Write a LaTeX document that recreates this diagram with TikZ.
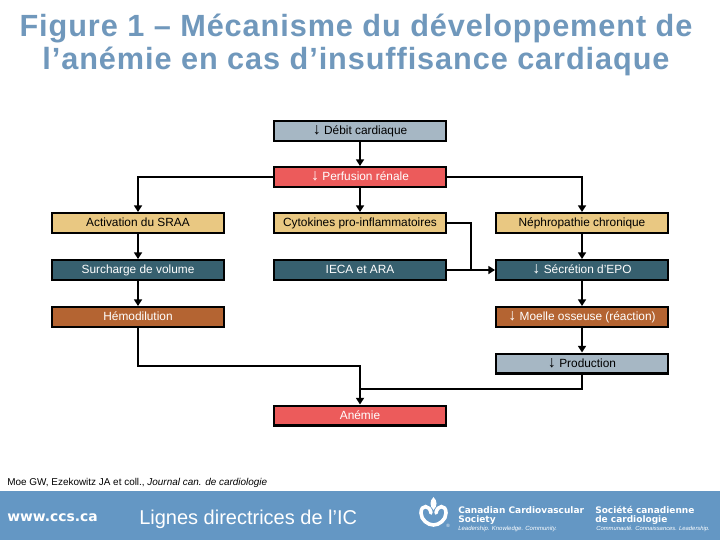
\documentclass[tikz,border=0pt]{standalone}
\usepackage{fontspec}
\setmainfont{Liberation Sans}
\newfontfamily\titlefont[LetterSpace=3]{Liberation Sans}
\newfontfamily\bandfont{DejaVu Sans}
\usetikzlibrary{arrows.meta}
\definecolor{cgrey}{HTML}{A6B7C4}
\definecolor{cred}{HTML}{EC5B5B}
\definecolor{csand}{HTML}{E9C882}
\definecolor{cteal}{HTML}{37606F}
\definecolor{cbrown}{HTML}{B46432}
\definecolor{cband}{HTML}{6497C4}
\definecolor{ctitle}{HTML}{7098BC}
\newcommand{\dnarrow}{{\fontsize{12pt}{10pt}\selectfont ↓}\hspace{2.5pt}}
\tikzset{
  x=0.75pt,y=-0.75pt,
  flowbox/.style={draw=black,line width=1.6pt,minimum width=130.5pt-1.6pt,minimum height=16.5pt-1.6pt,inner sep=0pt,font=\fontsize{8.9pt}{10pt}\selectfont,text height=6.4pt,text depth=0.9pt,anchor=center},
  greybox/.style={flowbox,fill=cgrey,text=black},
  redbox/.style={flowbox,fill=cred,text=white},
  sandbox/.style={flowbox,fill=csand,text=black},
  tealbox/.style={flowbox,fill=cteal,text=white},
  brownbox/.style={flowbox,fill=cbrown,text=white},
  link/.style={draw=black,line width=1.5pt},
  linkhead/.style={link,-{Triangle[length=5pt,width=6pt]}},
  titletext/.style={text=ctitle,font=\titlefont\bfseries\fontsize{23pt}{27pt}\selectfont,inner sep=0pt,anchor=base},
}
\begin{document}
\begin{tikzpicture}
\useasboundingbox (0,0) rectangle (720,540);
\fill[white] (0,0) rectangle (720,540);
\node[titletext] (t1) at (356,36) {Figure 1 – Mécanisme du développement de};
\node[titletext] (t2) at (356,69) {l’anémie en cas d’insuffisance cardiaque};
\node[greybox] (debit) at (360,131) {\dnarrow Débit cardiaque};
\node[redbox] (perf) at (360,177) {\dnarrow Perfusion rénale};
\node[sandbox] (sraa) at (138,223) {Activation du SRAA};
\node[tealbox] (surch) at (138,270) {Surcharge de volume};
\node[brownbox] (hemo) at (138,317) {Hémodilution};
\node[sandbox] (cyto) at (360,223) {Cytokines pro-inflammatoires};
\node[tealbox] (ieca) at (360,270) {IECA et ARA};
\node[sandbox] (nephro) at (582,223) {Néphropathie chronique};
\node[tealbox] (epo) at (582,270) {\dnarrow Sécrétion d'EPO};
\node[brownbox] (moelle) at (582,317) {\dnarrow Moelle osseuse (réaction)};
\node[greybox] (prod) at (582,363.5) {\dnarrow Production};
\node[redbox] (anemie) at (360,415.5) {Anémie};
\draw[linkhead] (debit) -- (perf);
\draw[linkhead] (perf) -- (cyto);
\draw[linkhead] (perf.west) -| (sraa.north);
\draw[linkhead] (perf.east) -| (nephro.north);
\draw[linkhead] (sraa) -- (surch);
\draw[linkhead] (surch) -- (hemo);
\draw[linkhead] (nephro) -- (epo);
\draw[linkhead] (epo) -- (moelle);
\draw[linkhead] (moelle) -- (prod);
\draw[linkhead] (ieca.east) -- (epo.west);
\coordinate (join) at (471,270);
\draw[link] (cyto.east) -| (join);
\coordinate (hbend) at (138,365.5);
\coordinate (abend) at (360,365.5);
\draw[linkhead] (hemo.south) -- (hbend) -- (abend) -- (anemie.north);
\coordinate (pbend) at (582,389);
\coordinate (pjoin) at (360,389);
\draw[link,line width=2.2pt] (prod.south) -- (pbend) -- (pjoin);
\node[anchor=west,inner sep=0pt,font=\fontsize{7.45pt}{8pt}\selectfont] (cite) at (7,483) {Moe GW, Ezekowitz JA et coll., \textit{Journal can. de cardiologie}};
\fill[cband] (0,491) rectangle (720,540);
\node[anchor=west,inner sep=0pt,text=white,font=\bandfont\bfseries\fontsize{10.4pt}{12pt}\selectfont] (www) at (7,517.5) {www.ccs.ca};
\node[anchor=west,inner sep=0pt,text=white,font=\fontsize{15pt}{18pt}\selectfont] (lignes) at (139,519) {Lignes directrices de l’IC};
% logo
\draw[white,line width=2.7pt,line cap=round] (431,513) .. controls (430,505) and (421,504) .. (421,513) .. controls (421,520) and (428,525) .. (433.5,525) .. controls (439,525) and (446,520) .. (446,513) .. controls (446,504) and (437,505) .. (436,513);
\fill[white] (433.5,497) .. controls (437.5,501) and (437.5,506) .. (433.5,510) .. controls (429.5,506) and (429.5,501) .. (433.5,497);
\node[anchor=west,inner sep=0pt,text=white,font=\fontsize{3.5pt}{4pt}\selectfont] (reg) at (446,525.5) {®};
\node[anchor=west,inner sep=0pt,text=white,font=\bandfont\bfseries\fontsize{6.75pt}{8pt}\selectfont] (c1) at (458,510) {Canadian Cardiovascular};
\node[anchor=west,inner sep=0pt,text=white,font=\bandfont\bfseries\fontsize{6.75pt}{8pt}\selectfont] (c2) at (458,520) {Society};
\node[anchor=west,inner sep=0pt,text=white,font=\itshape\fontsize{4.5pt}{5pt}\selectfont] (c3) at (458,528.5) {Leadership. Knowledge. Community.};
\node[anchor=west,inner sep=0pt,text=white,font=\bandfont\bfseries\fontsize{6.75pt}{8pt}\selectfont] (s1) at (595,510) {Société canadienne};
\node[anchor=west,inner sep=0pt,text=white,font=\bandfont\bfseries\fontsize{6.75pt}{8pt}\selectfont] (s2) at (595,520) {de cardiologie};
\node[anchor=west,inner sep=0pt,text=white,font=\itshape\fontsize{4.4pt}{5pt}\selectfont] (s3) at (596,528.5) {Communauté. Connaissances. Leadership.};
\end{tikzpicture}
\end{document}
